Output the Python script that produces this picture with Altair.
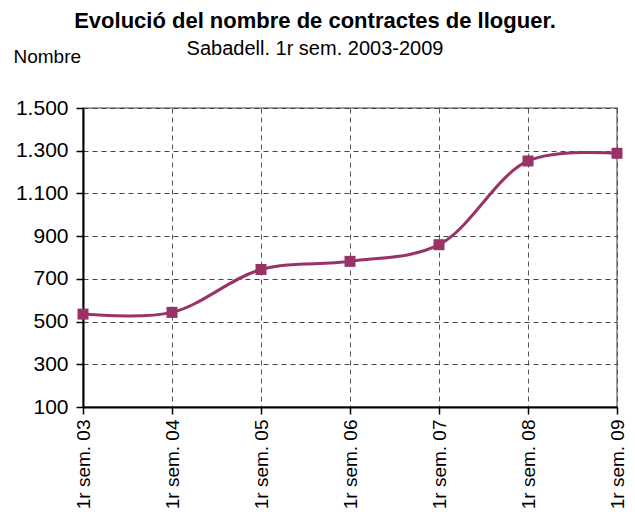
import altair as alt
import pandas as pd

categories = ["1r sem. 03", "1r sem. 04", "1r sem. 05", "1r sem. 06",
              "1r sem. 07", "1r sem. 08", "1r sem. 09"]
values = [535, 543, 744, 782, 860, 1252, 1288]
y_ticks = [100, 300, 500, 700, 900, 1100, 1300, 1500]

df = pd.DataFrame({"periode": categories, "nombre": values})

FONT = "Liberation Sans"
COLOR = "#993366"

x_enc = alt.X("periode:N", sort=categories,
              scale=alt.Scale(type="point", padding=0),
              axis=alt.Axis(title=None, labelAngle=-90, labelFontSize=19,
                            labelFont=FONT, labelColor="black", labelPadding=5,
                            domainColor="black", domainWidth=2,
                            tickColor="black", tickWidth=1.5, tickSize=7,
                            grid=True, gridColor="#555555", gridDash=[5, 4],
                            gridWidth=1))
y_enc = alt.Y("nombre:Q",
              scale=alt.Scale(domain=[100, 1500], nice=False, zero=False),
              axis=alt.Axis(values=y_ticks, title="Nombre", titleAngle=0,
                            titleAlign="left", titleBaseline="alphabetic",
                            titleX=-70, titleY=-46, titleFont=FONT,
                            titleFontSize=19, titleFontWeight="normal",
                            titleColor="black",
                            labelExpr="replace(format(datum.value, ','), ',', '.')",
                            labelFontSize=21, labelFont=FONT, labelColor="black",
                            labelPadding=8,
                            domainColor="black", domainWidth=2,
                            tickColor="black", tickWidth=1.5, tickSize=7,
                            grid=True, gridColor="#444444", gridDash=[5, 4],
                            gridWidth=1))

line = alt.Chart(df).mark_line(color=COLOR, strokeWidth=3,
                               interpolate="catmull-rom").encode(x=x_enc, y=y_enc)
points = alt.Chart(df).mark_point(shape="square", filled=True, color=COLOR,
                                  size=121, opacity=1).encode(x=x_enc, y=y_enc)

chart = alt.layer(line, points).properties(
    width=534,
    height=299,
    title=alt.TitleParams(
        text="Evolució del nombre de contractes de lloguer.",
        subtitle="Sabadell. 1r sem. 2003-2009",
        font=FONT, fontSize=22, fontWeight="bold", color="black",
        subtitleFont=FONT, subtitleFontSize=20, subtitleColor="black",
        subtitlePadding=6,
        anchor="middle", frame="group", dx=-35, offset=0, dy=13,
    ),
    autosize=alt.AutoSizeParams(type="none"),
    padding={"left": 75, "top": 100, "right": 10, "bottom": 110},
).configure_view(stroke="#808080", strokeWidth=1.5)

chart.save("out.html", embed_options={"renderer": "svg", "actions": False})
